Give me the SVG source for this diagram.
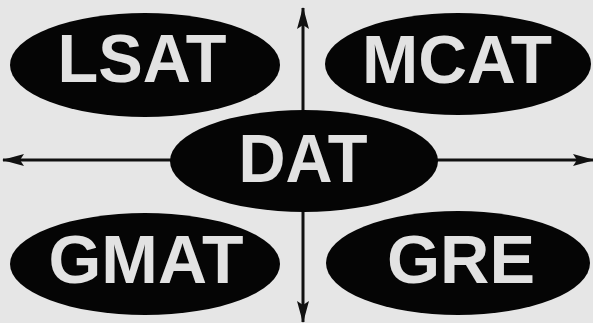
<svg xmlns="http://www.w3.org/2000/svg" width="593" height="323" viewBox="0 0 593 323">
<defs>
<style>
.node ellipse{fill:#050505}
.node text{font-family:"Liberation Sans",Arial,sans-serif;font-weight:bold;font-size:69px;fill:#e2e2e2;text-anchor:middle}
.conn line{stroke:#111;stroke-width:3}
</style>
<marker id="ah" markerUnits="userSpaceOnUse" markerWidth="22" markerHeight="12" viewBox="0 0 22 12" refX="21" refY="6" orient="auto-start-reverse">
<path d="M0,0 L22,6 L0,12 L4,6 Z" fill="#111"/>
</marker>
</defs>
<rect width="593" height="323" fill="#e6e6e6"/>
<g id="connectors" class="conn">
<line x1="303" y1="120" x2="303" y2="8" marker-end="url(#ah)"/>
<line x1="303" y1="200" x2="303" y2="322" marker-end="url(#ah)"/>
<line x1="180" y1="160" x2="3" y2="160" marker-end="url(#ah)"/>
<line x1="430" y1="160" x2="594" y2="160" marker-end="url(#ah)"/>
</g>
<g id="lsat" class="node">
<ellipse cx="145" cy="65" rx="135" ry="52"/>
<text x="142" y="82" textLength="169" lengthAdjust="spacingAndGlyphs">LSAT</text>
</g>
<g id="mcat" class="node">
<ellipse cx="458" cy="64" rx="133" ry="51"/>
<text x="457" y="83" textLength="190" lengthAdjust="spacingAndGlyphs">MCAT</text>
</g>
<g id="dat" class="node">
<ellipse cx="304" cy="161" rx="134" ry="51"/>
<text x="303" y="182" textLength="129" lengthAdjust="spacingAndGlyphs">DAT</text>
</g>
<g id="gmat" class="node">
<ellipse cx="145" cy="264" rx="135" ry="51"/>
<text x="146" y="283" textLength="195" lengthAdjust="spacingAndGlyphs">GMAT</text>
</g>
<g id="gre" class="node">
<ellipse cx="458" cy="263" rx="132" ry="52"/>
<text x="461" y="283" textLength="148" lengthAdjust="spacingAndGlyphs">GRE</text>
</g>
</svg>
